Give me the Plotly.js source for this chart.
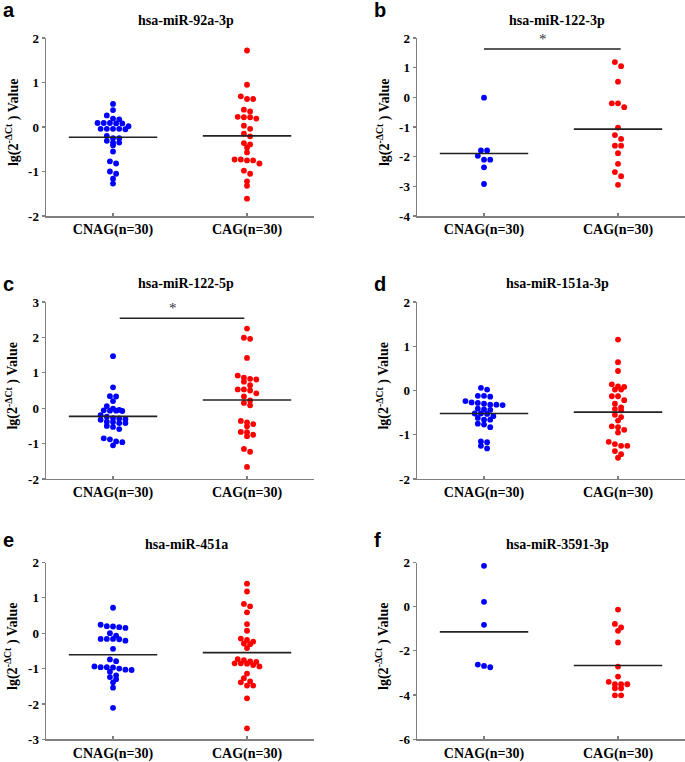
<!DOCTYPE html>
<html>
<head>
<meta charset="utf-8">
<script src="https://cdn.plot.ly/plotly-3.0.1.min.js"></script>
<style>
  body { margin: 0; background: #fff; }
  #chart { width: 685px; height: 762px; }
</style>
</head>
<body>
<div id="chart"></div>
<script>
// miRNA scatter dot plots, CNAG vs CAG

var groups = ['CNAG(n=30)', 'CAG(n=30)'];
var mirnas = ['hsa-miR-92a-3p', 'hsa-miR-122-3p', 'hsa-miR-122-5p', 'hsa-miR-151a-3p', 'hsa-miR-451a', 'hsa-miR-3591-3p'];
var letters = ['a', 'b', 'c', 'd', 'e', 'f'];

// lg(2^-dCt) values
var cnag92a = [0.52, 0.38, 0.26, 0.17, 0.19, 0.09, 0.08, 0.09, 0.08, 0.09, 0.02, -0.04, -0.04, -0.05, -0.04, -0.04, -0.20, -0.25, -0.25, -0.31, -0.35, -0.35, -0.41, -0.55, -0.77, -0.82, -1.00, -1.05, -1.16, -1.27];
var cag92a = [1.72, 0.95, 0.69, 0.63, 0.63, 0.39, 0.35, 0.22, 0.22, 0.19, 0.23, 0.03, -0.04, -0.15, -0.21, -0.36, -0.39, -0.46, -0.57, -0.73, -0.75, -0.75, -0.73, -0.82, -0.98, -1.05, -1.22, -1.32, -1.61];
var cnag122_3p = [-0.01, -1.79, -1.79, -1.97, -2.10, -2.10, -2.36, -2.92];
var cag122_3p = [1.19, 1.05, 0.53, -0.20, -0.20, -0.33, -1.02, -1.27, -1.40, -1.63, -1.63, -1.88, -2.24, -2.52, -2.66, -2.95];
var cnag122_5p = [1.47, 0.59, 0.34, 0.33, 0.20, 0.06, -0.01, -0.07, -0.07, -0.06, -0.08, -0.05, -0.24, -0.20, -0.29, -0.33, -0.31, -0.28, -0.39, -0.42, -0.42, -0.38, -0.50, -0.53, -0.59, -0.85, -0.88, -0.94, -0.96, -1.05];
var cag122_5p = [2.25, 1.96, 1.99, 1.42, 0.92, 0.86, 0.83, 0.81, 0.75, 0.65, 0.53, 0.50, 0.53, 0.42, 0.33, 0.22, 0.15, 0.08, -0.36, -0.45, -0.51, -0.40, -0.68, -0.79, -0.75, -0.67, -1.15, -1.23, -1.66];
var cnag151a = [0.06, 0.02, -0.12, -0.12, -0.14, -0.27, -0.28, -0.24, -0.30, -0.32, -0.32, -0.33, -0.41, -0.44, -0.43, -0.52, -0.52, -0.53, -0.58, -0.62, -0.66, -0.66, -0.75, -0.77, -0.83, -1.17, -1.15, -1.25, -1.31];
var cag151a = [1.15, 0.64, 0.44, 0.14, 0.09, 0.02, 0.02, 0.08, -0.13, -0.13, -0.22, -0.30, -0.38, -0.42, -0.45, -0.55, -0.60, -0.68, -0.81, -0.83, -0.89, -0.95, -1.16, -1.21, -1.25, -1.25, -1.37, -1.44, -1.52];
var cnag451a = [0.72, 0.24, 0.15, 0.19, 0.17, 0.20, 0.00, -0.07, -0.16, -0.16, -0.16, -0.17, -0.21, -0.44, -0.74, -0.79, -0.96, -0.96, -1.00, -0.97, -0.94, -1.03, -1.04, -1.09, -1.19, -1.24, -1.30, -1.39, -1.54, -2.11];
var cag451a = [1.40, 1.18, 0.83, 0.76, 0.59, 0.26, 0.07, -0.15, -0.19, -0.24, -0.29, -0.31, -0.42, -0.73, -0.76, -0.81, -0.80, -0.85, -0.85, -0.86, -0.90, -0.94, -1.14, -1.27, -1.36, -1.39, -1.48, -1.48, -1.84, -2.69];
var cnag3591 = [1.85, 0.22, -0.82, -2.62, -2.74, -2.68];
var cag3591 = [-0.13, -0.78, -0.94, -1.09, -1.62, -2.71, -3.16, -3.40, -3.51, -3.51, -3.51, -3.69, -3.69, -4.01, -4.01];

// group means (horizontal bars)
var meanCNAG = [-0.23, -1.89, -0.23, -0.52, -0.61, -1.14];
var meanCAG = [-0.20, -1.07, 0.23, -0.49, -0.55, -2.66];

var yRanges = [[-2, 2], [-4, 2], [-2, 3], [-2, 2], [-3, 2], [-6, 2]];
var yTicks = [[-2, -1, 0, 1, 2], [-4, -3, -2, -1, 0, 1, 2], [-2, -1, 0, 1, 2, 3], [-2, -1, 0, 1, 2], [-3, -2, -1, 0, 1, 2], [-6, -4, -2, 0, 2]];

// significance brackets (panel index, level)
var sigPanel = [1, 2];
var sigLevel = [1.63, 2.54];

var cnagSets = [cnag92a, cnag122_3p, cnag122_5p, cnag151a, cnag451a, cnag3591];
var cagSets = [cag92a, cag122_3p, cag122_5p, cag151a, cag451a, cag3591];

var W = 685, H = 762;
var xDomains = [[0.0672, 0.4584], [0.6088, 1.0]];
var yDomains = [[0.7165, 0.9501], [0.3714, 0.6037], [0.0298, 0.2618]];
var letterY = [10, 284, 540];

var serif = 'Liberation Serif, Times New Roman, serif';
var axisGrey = '#808080';

// Prism-like scatter: bin close values into rows, centre each row
function swarm(vals, center, span) {
    var pxPerY = 178 / span;
    var dx = 6.2 / 134;
    var idx = vals.map(function (v, i) { return i; });
    idx.sort(function (a, b) { return vals[b] - vals[a]; });
    var rows = [], cur = [], top = null;
    idx.forEach(function (i) {
        if (cur.length && (top - vals[i]) * pxPerY >= 4.2) {
            rows.push(cur);
            cur = [];
        }
        if (!cur.length) top = vals[i];
        cur.push(i);
    });
    if (cur.length) rows.push(cur);
    var xs = [], ys = [];
    rows.forEach(function (r) {
        r.forEach(function (i, k) {
            xs.push(center + (k - (r.length - 1) / 2) * dx);
            ys.push(vals[i]);
        });
    });
    return { x: xs, y: ys };
}

var data = [];
var layout = {
    width: W,
    height: H,
    margin: { l: 0, r: 0, t: 0, b: 0 },
    paper_bgcolor: '#fff',
    plot_bgcolor: '#fff',
    showlegend: false,
    annotations: [],
    shapes: []
};

for (var i = 0; i < 6; i++) {
    var col = i % 2, row = Math.floor(i / 2);
    var xa = i === 0 ? 'x' : 'x' + (i + 1);
    var ya = i === 0 ? 'y' : 'y' + (i + 1);
    var span = yRanges[i][1] - yRanges[i][0];

    var s0 = swarm(cnagSets[i], 0, span);
    var s1 = swarm(cagSets[i], 1, span);
    data.push({ type: 'scatter', mode: 'markers', x: s0.x, y: s0.y, xaxis: xa, yaxis: ya,
        marker: { color: '#0000ff', size: 5.8 }, hoverinfo: 'y' });
    data.push({ type: 'scatter', mode: 'markers', x: s1.x, y: s1.y, xaxis: xa, yaxis: ya,
        marker: { color: '#ff0000', size: 5.8 }, hoverinfo: 'y' });
    data.push({ type: 'scatter', mode: 'lines', x: [-0.33, 0.33], y: [meanCNAG[i], meanCNAG[i]],
        xaxis: xa, yaxis: ya, line: { color: '#222', width: 1.6 }, hoverinfo: 'skip' });
    data.push({ type: 'scatter', mode: 'lines', x: [0.67, 1.33], y: [meanCAG[i], meanCAG[i]],
        xaxis: xa, yaxis: ya, line: { color: '#222', width: 1.6 }, hoverinfo: 'skip' });

    layout[i === 0 ? 'xaxis' : 'xaxis' + (i + 1)] = {
        domain: xDomains[col], anchor: ya, range: [-0.5, 1.5],
        tickvals: [0, 1], ticktext: groups,
        ticks: 'inside', ticklen: 3, tickwidth: 1.2, tickcolor: axisGrey,
        showline: true, linecolor: axisGrey, linewidth: 1.5,
        showgrid: false, zeroline: false, fixedrange: true,
        tickfont: { family: serif, size: 14, color: '#000', weight: 'bold' }
    };
    layout[i === 0 ? 'yaxis' : 'yaxis' + (i + 1)] = {
        domain: yDomains[row], anchor: xa, range: yRanges[i],
        tickvals: yTicks[i], ticktext: yTicks[i].map(String),
        ticks: 'outside', ticklen: 3, tickwidth: 1.2, tickcolor: axisGrey,
        showline: true, linecolor: axisGrey, linewidth: 1.5,
        showgrid: false, zeroline: false, fixedrange: true,
        tickfont: { family: serif, size: 13, color: '#000', weight: 'bold' }
    };

    var leftPx = xDomains[col][0] * W;
    var topPx = (1 - yDomains[row][1]) * H;
    var bottomPx = (1 - yDomains[row][0]) * H;

    // panel letter
    layout.annotations.push({
        text: letters[i], xref: 'paper', yref: 'paper',
        x: (leftPx - 45) / W, y: 1 - letterY[row] / H, xanchor: 'left', yanchor: 'middle',
        showarrow: false, font: { family: 'Liberation Sans, Arial, sans-serif', size: 20, color: '#000', weight: 'bold' }
    });
    // panel title
    layout.annotations.push({
        text: mirnas[i], xref: 'paper', yref: 'paper',
        x: (xDomains[col][0] + xDomains[col][1]) / 2 + 6 / W, y: 1 - (topPx - 18) / H,
        xanchor: 'center', yanchor: 'middle', showarrow: false,
        font: { family: serif, size: 14, color: '#000', weight: 'bold' }
    });
    // y-axis title
    layout.annotations.push({
        text: 'lg(2<sup>-ΔCt</sup> ) Value', xref: 'paper', yref: 'paper',
        x: (leftPx - 34) / W, y: 1 - ((topPx + bottomPx) / 2 - 4) / H,
        xanchor: 'center', yanchor: 'middle', textangle: -90, showarrow: false,
        font: { family: serif, size: 14, color: '#000', weight: 'bold' }
    });
}

sigPanel.forEach(function (p, k) {
    var xa = 'x' + (p + 1), ya = 'y' + (p + 1);
    var x0 = p === 1 ? 0 : 0.05, x1 = p === 1 ? 1.02 : 0.98;
    layout.shapes.push({ type: 'line', xref: xa, yref: ya, x0: x0, x1: x1,
        y0: sigLevel[k], y1: sigLevel[k], line: { color: '#222', width: 1.6 } });
    layout.annotations.push({ text: '*', xref: xa, yref: ya, x: (x0 + x1) / 2 - 0.07,
        y: sigLevel[k], yanchor: 'bottom', showarrow: false,
        font: { family: serif, size: 15, color: '#333' } });
});

Plotly.newPlot('chart', data, layout, { staticPlot: true });
</script>
</body>
</html>
